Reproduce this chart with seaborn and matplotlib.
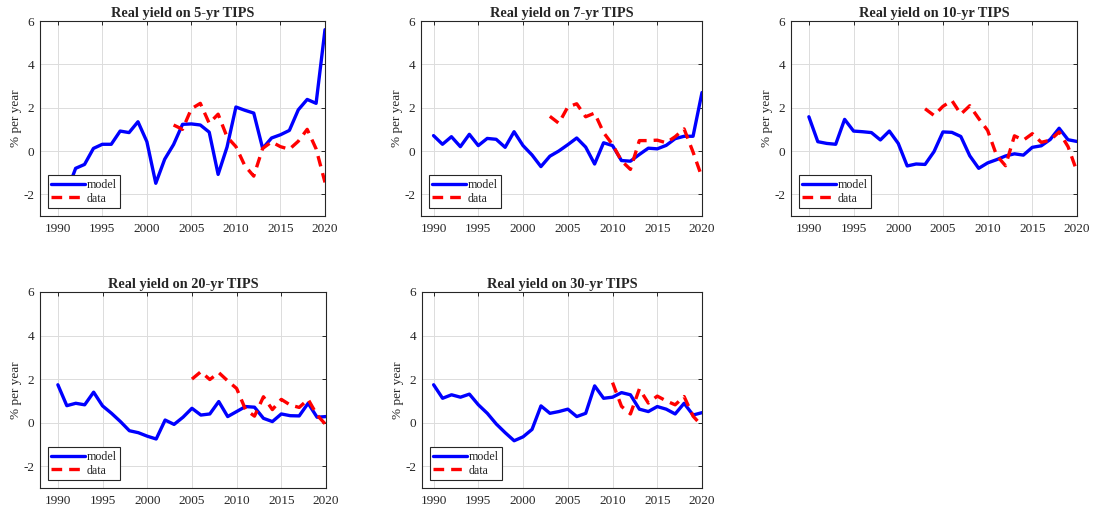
import numpy as np
import pandas as pd
import matplotlib
matplotlib.use("Agg")
import matplotlib.pyplot as plt
import seaborn as sns

# ---- data -------------------------------------------------------------
model_years = np.arange(1990, 2021)

model_5yr = [-2.1, -1.9, -0.8, -0.62, 0.12, 0.31, 0.31, 0.92, 0.85, 1.35, 0.43,
             -1.49, -0.38, 0.3, 1.23, 1.25, 1.2, 0.87, -1.08, 0.18, 2.03,
             1.88, 1.75, 0.12, 0.6, 0.75, 0.95, 1.9, 2.38, 2.2, 5.6]
model_7yr = [0.71, 0.31, 0.66, 0.2, 0.77, 0.25, 0.58, 0.54, 0.17, 0.89, 0.25,
             -0.18, -0.72, -0.24, 0.0, 0.29, 0.6, 0.18, -0.6, 0.38, 0.25,
             -0.44, -0.47, -0.16, 0.13, 0.1, 0.26, 0.57, 0.68, 0.68, 2.7]
model_10yr = [1.58, 0.43, 0.35, 0.31, 1.46, 0.92, 0.89, 0.85, 0.51, 0.92, 0.35,
              -0.69, -0.6, -0.62, -0.03, 0.88, 0.86, 0.67, -0.22, -0.8, -0.55,
              -0.4, -0.23, -0.13, -0.19, 0.17, 0.24, 0.53, 1.05, 0.52, 0.44]
model_20yr = [1.74, 0.78, 0.89, 0.82, 1.4, 0.77, 0.43, 0.05, -0.37, -0.46, -0.62,
              -0.75, 0.12, -0.08, 0.25, 0.66, 0.35, 0.4, 0.97, 0.28, 0.51,
              0.74, 0.71, 0.2, 0.05, 0.4, 0.32, 0.31, 0.89, 0.25, 0.28]
model_30yr = [1.74, 1.12, 1.28, 1.17, 1.31, 0.82, 0.43, -0.06, -0.46, -0.83, -0.65,
              -0.31, 0.77, 0.43, 0.51, 0.62, 0.28, 0.43, 1.69, 1.12, 1.17,
              1.38, 1.28, 0.62, 0.51, 0.74, 0.62, 0.4, 0.89, 0.35, 0.46]

data_years_short = np.arange(2003, 2021)
data_years_20yr = np.arange(2005, 2021)
data_years_30yr = np.arange(2010, 2021)

data_5yr = [1.2, 1.0, 1.95, 2.2, 1.28, 1.7, 0.65, 0.2, -0.68, -1.16, 0.12,
            0.42, 0.2, 0.08, 0.45, 1.0, 0.1, -1.45]
data_7yr = [1.6, 1.28, 2.03, 2.18, 1.58, 1.75, 0.85, 0.3, -0.45, -0.85, 0.48,
            0.48, 0.5, 0.38, 0.66, 1.02, -0.05, -1.22]
data_10yr = [1.95, 1.64, 2.06, 2.33, 1.7, 2.09, 1.5, 0.95, -0.2, -0.68, 0.7,
             0.5, 0.8, 0.4, 0.5, 0.88, 0.2, -0.95]
data_20yr = [2.0, 2.34, 1.98, 2.3, 1.92, 1.57, 0.6, 0.3, 1.19, 0.6, 1.07,
             0.81, 0.7, 1.07, 0.35, -0.1]
data_30yr = [1.84, 0.75, 0.4, 1.55, 0.9, 1.22, 1.0, 0.82, 1.2, 0.3, -0.15]

titles = ["Real yield on 5-yr TIPS", "Real yield on 7-yr TIPS",
          "Real yield on 10-yr TIPS", "Real yield on 20-yr TIPS",
          "Real yield on 30-yr TIPS"]
x_ticks = [1990, 1995, 2000, 2005, 2010, 2015, 2020]
y_ticks = [-2, 0, 2, 4, 6]

panels = [
    (model_5yr, data_years_short, data_5yr),
    (model_7yr, data_years_short, data_7yr),
    (model_10yr, data_years_short, data_10yr),
    (model_20yr, data_years_20yr, data_20yr),
    (model_30yr, data_years_30yr, data_30yr),
]

# ---- styling ----------------------------------------------------------
sns.set_style("white")
plt.rcParams["font.family"] = ["Liberation Serif", "DejaVu Serif"]
plt.rcParams["axes.unicode_minus"] = False
AX_GRAY = "#262626"

W, H = 1095, 507
fig = plt.figure(figsize=(W / 100, H / 100), dpi=100)

# axes boxes in pixels: (left, top, width, height)
boxes = [(40, 21, 285, 195), (421, 21, 281, 195), (791, 21, 286, 195),
         (40, 292, 286, 196), (422, 292, 280, 196)]
x_left = [1988.0, 1988.6, 1988.0, 1988.0, 1988.7]

for i, ((model, dyears, dvals), title, box) in enumerate(zip(panels, titles, boxes)):
    l, t, w, h = box
    ax = fig.add_axes([l / W, (H - t - h) / H, w / W, h / H])

    df_model = pd.DataFrame({"year": model_years, "value": model})
    df_data = pd.DataFrame({"year": dyears, "value": dvals})

    sns.lineplot(data=df_model, x="year", y="value", ax=ax, color="#0000ff",
                 linewidth=2.4, label="model")
    sns.lineplot(data=df_data, x="year", y="value", ax=ax, color="#ff0000",
                 linewidth=2.4, label="data", dashes=False)
    ax.lines[-1].set_dashes((3.2, 2.1))

    ax.set_xlim(x_left[i], 2020)
    ax.set_ylim(-3, 6)
    ax.set_xticks(x_ticks)
    ax.set_yticks(y_ticks)
    ax.grid(True, color="#dcdcdc", linewidth=0.7)
    ax.set_axisbelow(True)
    ax.tick_params(direction="in", top=True, right=True, length=3,
                   width=0.7, color=AX_GRAY, labelcolor=AX_GRAY,
                   labelsize=9.5, pad=4)
    ax.tick_params(axis="x", pad=5)
    for sp in ax.spines.values():
        sp.set_color(AX_GRAY)
        sp.set_linewidth(0.8)
    ax.set_xlabel("")
    ax.set_ylabel("% per year", fontsize=9.5, color=AX_GRAY, labelpad=1)
    ax.set_title(title, fontsize=10.3, fontweight="bold", pad=3)

    leg = ax.legend(loc="lower left", fontsize=8.6, frameon=True, fancybox=False,
                    framealpha=1, edgecolor=AX_GRAY, handlelength=2.8,
                    borderpad=0.3, labelspacing=0.15, handletextpad=0.15,
                    borderaxespad=0.65)
    leg.get_frame().set_linewidth(0.8)
    leg.set_zorder(5)

fig.savefig("out.png", dpi=100)
